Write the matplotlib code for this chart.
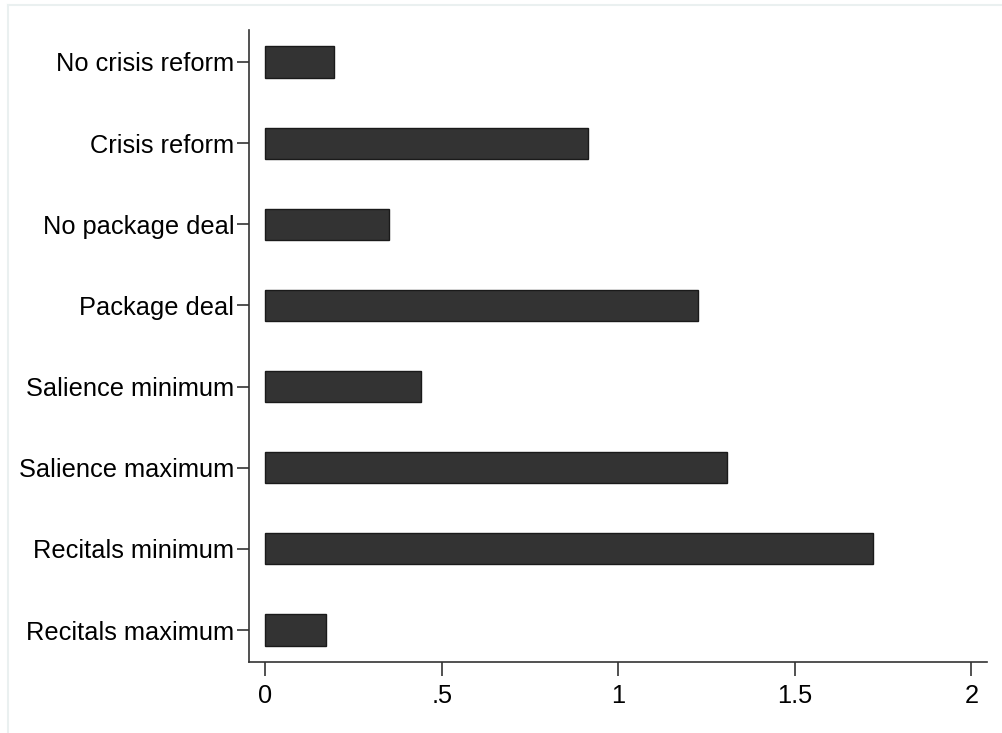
import matplotlib
matplotlib.use("Agg")
import matplotlib.pyplot as plt
from matplotlib.lines import Line2D

plt.rcParams['font.family'] = ['Liberation Sans', 'DejaVu Sans']

categories = ["No crisis reform", "Crisis reform", "No package deal", "Package deal",
              "Salience minimum", "Salience maximum", "Recitals minimum", "Recitals maximum"]
values = [0.194, 0.914, 0.351, 1.226, 0.442, 1.308, 1.721, 0.173]
xticks = [0, 0.5, 1, 1.5, 2]
xticklabels = ["0", ".5", "1", "1.5", "2"]

fig = plt.figure(figsize=(10.02, 7.33), dpi=100)
ax = fig.add_axes([249/1002, 1 - 662/733, (987-249)/1002, (662-30)/733])

n = len(categories)
ypos = list(range(n - 1, -1, -1))
ax.barh(ypos, values, height=0.385, color="#333333", edgecolor="#1a1a1a", linewidth=1.0)

ax.set_xlim(-0.046, 2.044)
ax.set_ylim(-0.394, n - 1 + 0.394)
ax.set_yticks(ypos)
ax.set_yticklabels(categories, fontsize=18.3)
ax.set_xticks(xticks)
ax.set_xticklabels(xticklabels, fontsize=18.3)

for s in ["top", "right"]:
    ax.spines[s].set_visible(False)
for s in ["left", "bottom"]:
    ax.spines[s].set_color("#333333")
    ax.spines[s].set_linewidth(1.2)
ax.tick_params(axis="y", length=8.5, width=1.2, color="#333333", pad=2)
ax.tick_params(axis="x", length=10, width=1.2, color="#333333", pad=6)

# faint outer border
fig.add_artist(Line2D([7.5/1002, 7.5/1002], [0, 1 - 4.5/733], transform=fig.transFigure,
                      color="#eaf0f0", linewidth=1.5))
fig.add_artist(Line2D([7.5/1002, 1], [1 - 4.5/733, 1 - 4.5/733], transform=fig.transFigure,
                      color="#eaf0f0", linewidth=1.5))

fig.savefig("out.png", dpi=100)
